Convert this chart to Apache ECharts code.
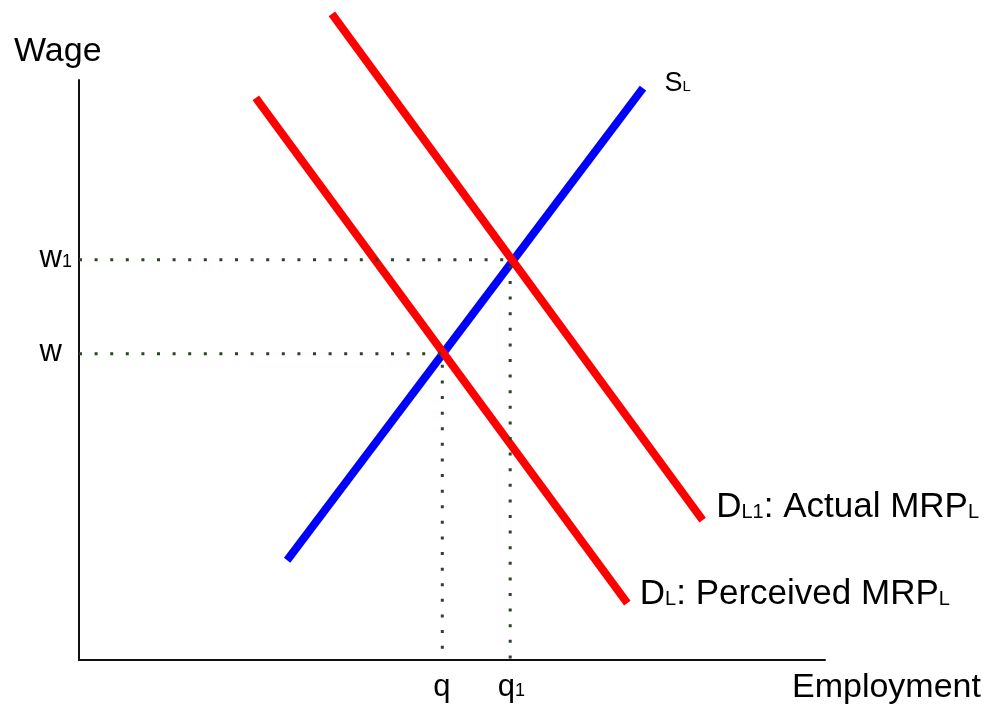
<!DOCTYPE html>
<html>
<head>
<meta charset="utf-8">
<script src="https://cdn.jsdelivr.net/npm/echarts@6/dist/echarts.min.js"></script>
<style>
  html, body { margin: 0; padding: 0; background: #fff; }
  #chart { width: 991px; height: 705px; }
</style>
</head>
<body>
<div id="chart"></div>
<script>
// Labour market: supply of labour and two demand (MRP) curves
const supplyL = [[2.79, 1.72], [7.56, 9.86]];          // S_L
const demandPerceived = [[2.37, 9.69], [7.35, 0.98]];  // D_L: perceived MRP_L
const demandActual = [[3.39, 11.14], [8.36, 2.41]];    // D_L1: actual MRP_L

// Equilibrium wage / employment levels
const wage0 = 5.28, emp0 = 4.87;   // w, q
const wage1 = 6.90, emp1 = 5.78;   // w1, q1

const font = 'Liberation Sans, Arial, Helvetica, sans-serif';
const ink = '#000';
// main text and subscripts; subscripts are lifted so they sit on the baseline
const rich = {
  t: { fontFamily: font, fontSize: 31, color: ink, verticalAlign: 'bottom' },
  ts: { fontFamily: font, fontSize: 18, color: ink, verticalAlign: 'bottom', padding: [0, 0, 3, 0] },
  m: { fontFamily: font, fontSize: 35, color: ink, verticalAlign: 'bottom' },
  s: { fontFamily: font, fontSize: 20, color: ink, verticalAlign: 'bottom', padding: [0, 0, 3, 0] },
  ms: { fontFamily: font, fontSize: 27, color: ink, verticalAlign: 'bottom' },
  ss: { fontFamily: font, fontSize: 15, color: ink, verticalAlign: 'bottom', padding: [0, 0, 3, 0] }
};

const chart = echarts.init(document.getElementById('chart'), null, { renderer: 'canvas' });

const axisCommon = {
  type: 'value',
  min: 0,
  max: 10,
  axisLine: { show: true, lineStyle: { color: '#111', width: 2 } },
  axisTick: { show: false },
  axisLabel: { show: false },
  splitLine: { show: false }
};

const curve = (name, data, color) => ({
  name,
  type: 'line',
  data,
  clip: false,
  showSymbol: false,
  symbol: 'none',
  silent: true,
  z: 3,
  lineStyle: { color, width: 8, cap: 'butt' }
});

const dotted = (name, w, q) => ({
  name,
  type: 'line',
  data: [[0, w], [q, w], [q, 0]],
  showSymbol: false,
  symbol: 'none',
  silent: true,
  z: 4,
  lineStyle: { color: '#2a4526', width: 3, type: [3, 12.6], cap: 'butt' }
});

const tag = (value, formatter, position, align) => ({
  value,
  label: {
    show: true, formatter, position, align, verticalAlign: 'middle',
    color: ink, opacity: 1, textBorderWidth: 0, rich
  }
});

chart.setOption({
  animation: false,
  grid: { left: 79, right: 166, top: 80, bottom: 45 },
  xAxis: axisCommon,
  yAxis: axisCommon,
  series: [
    dotted('w-q', wage0, emp0),
    dotted('w1-q1', wage1, emp1),
    curve('SL', supplyL, '#0000ff'),
    curve('DL', demandPerceived, '#ff0000'),
    curve('DL1', demandActual, '#ff0000'),
    {
      name: 'labels',
      type: 'scatter',
      symbolSize: 1,
      silent: true,
      z: 5,
      itemStyle: { color: 'rgba(0,0,0,0)' },
      data: [
        tag([0, wage1], '{t|w}{ts|1}', [-39, -1], 'left'),
        tag([0, wage0], '{t|w}', [-39, -1], 'left'),
        tag([emp0, 0], '{t|q}', [0, 28], 'center'),
        tag([emp1, 0], '{t|q}{ts|1}', [-12, 28], 'left'),
        tag(supplyL[1], '{ms|S}{ss|L}', [22, -4], 'left'),
        tag(demandActual[1], '{m|D}{s|L1}{m|: Actual MRP}{s|L}', [14, -12], 'left'),
        tag(demandPerceived[1], '{m|D}{s|L}{m|: Perceived MRP}{s|L}', [13, -8], 'left')
      ]
    }
  ],
  graphic: [
    { type: 'text', left: 14, top: 35, style: { text: 'Wage', font: '34px ' + font, fill: ink } },
    { type: 'text', left: 792, top: 671, style: { text: 'Employment', font: '34px ' + font, fill: ink } }
  ]
});
</script>
</body>
</html>
